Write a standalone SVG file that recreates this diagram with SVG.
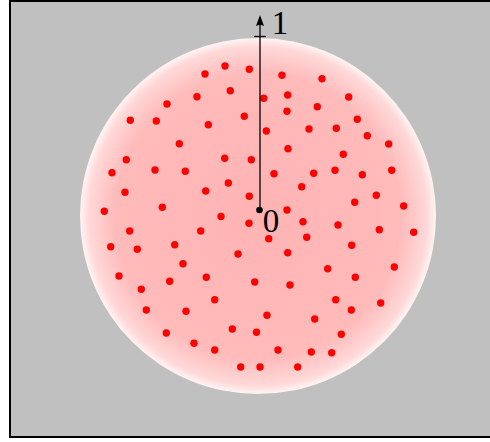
<svg xmlns="http://www.w3.org/2000/svg" width="490" height="442" viewBox="0 0 490 442">
<defs>
<radialGradient id="disk" cx="258" cy="216" r="178" gradientUnits="userSpaceOnUse">
<stop offset="0" stop-color="#ffb3b3"/>
<stop offset="0.8" stop-color="#ffbaba"/>
<stop offset="0.95" stop-color="#ffd8d8"/>
<stop offset="1" stop-color="#fff4f4"/>
</radialGradient>
<style>
.d{fill:#ff0000}
.t{font-family:"Liberation Serif","DejaVu Serif",serif;font-size:33px;fill:#000;text-anchor:middle}
</style>
</defs>
<rect x="10" y="1" width="490" height="436" fill="#c0c0c0" stroke="#000" stroke-width="2"/>
<circle id="disk-node" cx="258" cy="216" r="178" fill="url(#disk)"/>
<g id="points">
<circle class="d" cx="225" cy="66" r="3.7"/><circle class="d" cx="249.3" cy="69.3" r="3.7"/><circle class="d" cx="205" cy="74" r="3.7"/><circle class="d" cx="230.3" cy="90.7" r="3.7"/><circle class="d" cx="197" cy="96.7" r="3.7"/><circle class="d" cx="167" cy="104" r="3.7"/><circle class="d" cx="244.3" cy="116.3" r="3.7"/><circle class="d" cx="130.3" cy="120.3" r="3.7"/><circle class="d" cx="156.3" cy="121" r="3.7"/><circle class="d" cx="208.3" cy="124.7" r="3.7"/><circle class="d" cx="179.3" cy="143.7" r="3.7"/><circle class="d" cx="126.3" cy="159.7" r="3.7"/><circle class="d" cx="224.7" cy="158.3" r="3.7"/><circle class="d" cx="251.3" cy="159.7" r="3.7"/><circle class="d" cx="112" cy="172.7" r="3.7"/><circle class="d" cx="155" cy="170" r="3.7"/><circle class="d" cx="185.3" cy="171.3" r="3.7"/><circle class="d" cx="228.3" cy="183" r="3.7"/><circle class="d" cx="125" cy="192.3" r="3.7"/><circle class="d" cx="205.7" cy="191" r="3.7"/><circle class="d" cx="249.3" cy="196.3" r="3.7"/><circle class="d" cx="104.3" cy="211.3" r="3.7"/><circle class="d" cx="162.3" cy="207.3" r="3.7"/><circle class="d" cx="221" cy="216.5" r="3.7"/>
<circle class="d" cx="282" cy="75.3" r="3.7"/><circle class="d" cx="322" cy="78.7" r="3.7"/><circle class="d" cx="263.7" cy="98.3" r="3.7"/><circle class="d" cx="287.7" cy="95" r="3.7"/><circle class="d" cx="287" cy="111.3" r="3.7"/><circle class="d" cx="317.3" cy="106.7" r="3.7"/><circle class="d" cx="348.7" cy="97" r="3.7"/><circle class="d" cx="357.3" cy="119.3" r="3.7"/><circle class="d" cx="266.3" cy="131" r="3.7"/><circle class="d" cx="309" cy="129" r="3.7"/><circle class="d" cx="336.3" cy="128.3" r="3.7"/><circle class="d" cx="367.3" cy="135.7" r="3.7"/><circle class="d" cx="388.7" cy="144" r="3.7"/><circle class="d" cx="288" cy="148.7" r="3.7"/><circle class="d" cx="343.3" cy="154.3" r="3.7"/><circle class="d" cx="274" cy="173.7" r="3.7"/><circle class="d" cx="313.7" cy="173.3" r="3.7"/><circle class="d" cx="335" cy="170.3" r="3.7"/><circle class="d" cx="362.3" cy="174.7" r="3.7"/><circle class="d" cx="391.7" cy="170.3" r="3.7"/><circle class="d" cx="301.7" cy="186.7" r="3.7"/><circle class="d" cx="376.3" cy="195.3" r="3.7"/><circle class="d" cx="354.7" cy="202.3" r="3.7"/><circle class="d" cx="403.7" cy="206" r="3.7"/><circle class="d" cx="287" cy="210" r="3.7"/>
<circle class="d" cx="249" cy="223.3" r="3.7"/><circle class="d" cx="129.7" cy="231" r="3.7"/><circle class="d" cx="200.7" cy="231" r="3.7"/><circle class="d" cx="110.7" cy="246.7" r="3.7"/><circle class="d" cx="137.3" cy="249.3" r="3.7"/><circle class="d" cx="174.7" cy="244.7" r="3.7"/><circle class="d" cx="238" cy="254" r="3.7"/><circle class="d" cx="183" cy="263.7" r="3.7"/><circle class="d" cx="119" cy="276" r="3.7"/><circle class="d" cx="169.7" cy="281.3" r="3.7"/><circle class="d" cx="206.3" cy="277.3" r="3.7"/><circle class="d" cx="254.7" cy="282" r="3.7"/><circle class="d" cx="141.3" cy="289.3" r="3.7"/><circle class="d" cx="214.7" cy="299.7" r="3.7"/><circle class="d" cx="146.3" cy="310" r="3.7"/><circle class="d" cx="186" cy="311.3" r="3.7"/><circle class="d" cx="166.3" cy="333" r="3.7"/><circle class="d" cx="232.3" cy="329" r="3.7"/><circle class="d" cx="256.5" cy="332.3" r="3.7"/><circle class="d" cx="194" cy="343.3" r="3.7"/><circle class="d" cx="214.7" cy="350" r="3.7"/><circle class="d" cx="240.7" cy="367" r="3.7"/><circle class="d" cx="260" cy="367" r="3.7"/>
<circle class="d" cx="303" cy="221.7" r="3.7"/><circle class="d" cx="338" cy="225" r="3.7"/><circle class="d" cx="379.3" cy="229.7" r="3.7"/><circle class="d" cx="413.7" cy="232.3" r="3.7"/><circle class="d" cx="268.7" cy="238.7" r="3.7"/><circle class="d" cx="306.7" cy="237.3" r="3.7"/><circle class="d" cx="351.7" cy="245.3" r="3.7"/><circle class="d" cx="287.7" cy="252.7" r="3.7"/><circle class="d" cx="327.7" cy="268.7" r="3.7"/><circle class="d" cx="394.3" cy="267" r="3.7"/><circle class="d" cx="355.3" cy="277.3" r="3.7"/><circle class="d" cx="290" cy="285" r="3.7"/><circle class="d" cx="335.7" cy="299.7" r="3.7"/><circle class="d" cx="380.7" cy="303" r="3.7"/><circle class="d" cx="351.3" cy="310" r="3.7"/><circle class="d" cx="267" cy="315.3" r="3.7"/><circle class="d" cx="314.7" cy="319" r="3.7"/><circle class="d" cx="341.3" cy="334.3" r="3.7"/><circle class="d" cx="278" cy="350" r="3.7"/><circle class="d" cx="311.3" cy="352" r="3.7"/><circle class="d" cx="331.7" cy="352.7" r="3.7"/><circle class="d" cx="297.7" cy="367" r="3.7"/>
</g>
<g id="axis">
<line x1="260" y1="210" x2="260" y2="22" stroke="#000" stroke-width="1.3"/>
<path d="M260,15 L264,26 L260,24.5 L256,26 Z" fill="#000"/>
<line x1="254" y1="36.5" x2="266" y2="36.5" stroke="#000" stroke-width="1.3"/>
</g>
<circle id="origin" cx="259.5" cy="210" r="3.3" fill="#000"/>
<text id="label-1" class="t" x="280" y="34">1</text>
<text id="label-0" class="t" x="271" y="232">0</text>
</svg>
